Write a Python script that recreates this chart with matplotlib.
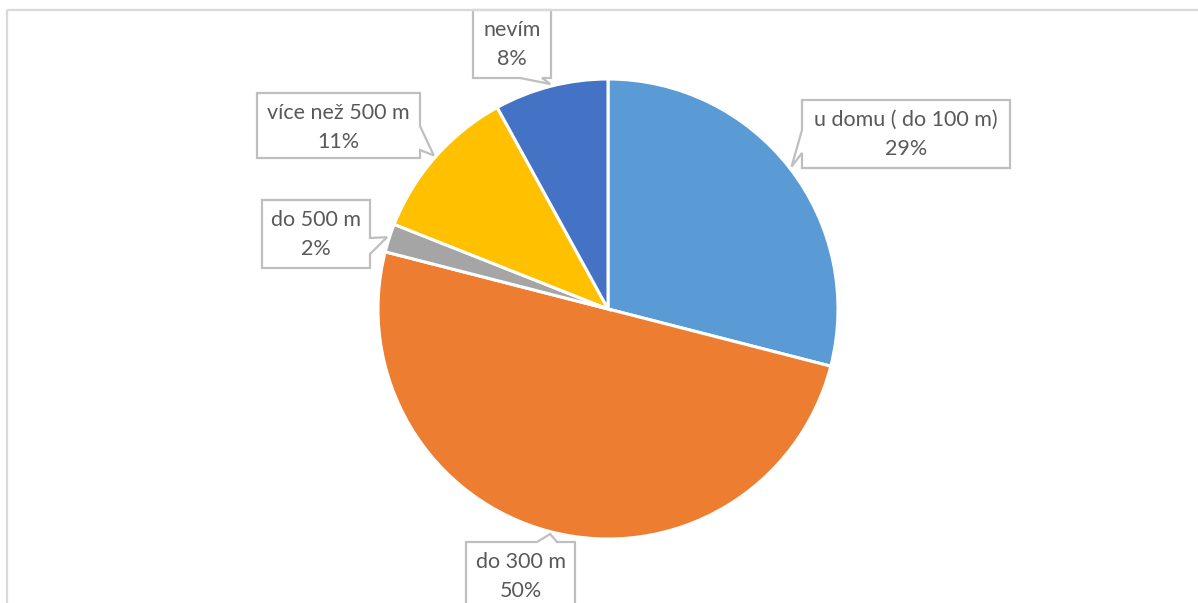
import numpy as np
import matplotlib
matplotlib.use("Agg")
import matplotlib.pyplot as plt
from matplotlib.patches import Polygon, Rectangle

# Survey shares (percent), drawn clockwise from 12 o'clock
categories = ["u domu ( do 100 m)", "do 300 m", "do 500 m", "více než 500 m", "nevím"]
shares = [29, 50, 2, 11, 8]
colors = ["#5B9BD5", "#ED7D31", "#A5A5A5", "#FFC000", "#4472C4"]

W, H = 1198, 603
fig = plt.figure(figsize=(W / 100, H / 100), dpi=100)
ax = fig.add_axes([0, 0, 1, 1])

cx, cy, R = 608, 309, 230
wedges, _ = ax.pie(shares, colors=colors, startangle=90, counterclock=False,
                   center=(cx, cy), radius=R, frame=True,
                   wedgeprops=dict(edgecolor="white", linewidth=2.2))
ax.set_xlim(0, W)
ax.set_ylim(H, 0)
ax.set_aspect("equal")
ax.axis("off")
for w in wedges:
    # y axis is flipped, so mirror the wedge angles to keep clockwise order from top
    t1, t2 = w.theta1, w.theta2
    w.set_theta1(-t2)
    w.set_theta2(-t1)
    w.set_zorder(2)

# label boxes: (x0, y0, x1, y1), side that carries the pointer, pointer base span
boxes = {
    "u domu ( do 100 m)": ((802, 100, 1010, 168), "left", (130, 153)),
    "do 300 m": ((466, 542, 575, 640), "top", (537, 557)),
    "do 500 m": ((262, 200, 370, 268), "right", (238, 254)),
    "více než 500 m": ((257, 93, 420, 158), "right", (126, 150)),
    "nevím": ((473, 10, 551, 78), "bottom", (520, 542)),
}


def callout_poly(box, side, base, tip):
    x0, y0, x1, y1 = box
    a, b = base
    pts = [(x0, y0)]
    if side == "top":
        pts += [(a, y0), tip, (b, y0)]
    pts.append((x1, y0))
    if side == "right":
        pts += [(x1, a), tip, (x1, b)]
    pts.append((x1, y1))
    if side == "bottom":
        pts += [(b, y1), tip, (a, y1)]
    pts.append((x0, y1))
    if side == "left":
        pts += [(x0, b), tip, (x0, a)]
    return pts


cum = 0.0
total = float(sum(shares))
for cat, val in zip(categories, shares):
    mid = 90 - 360 * (cum + val / 2) / total
    cum += val
    tip = (cx + 1.01 * R * np.cos(np.radians(mid)),
           cy - 1.01 * R * np.sin(np.radians(mid)))
    box, side, base = boxes[cat]
    ax.add_patch(Polygon(callout_poly(box, side, base, tip), closed=True,
                         facecolor="white", edgecolor="#BFBFBF",
                         linewidth=1.6, zorder=3))
    x0, y0, x1, y1 = box
    xm = (x0 + x1) / 2
    ytop = y0 + 20 if cat != "nevím" else 30
    ax.text(xm, ytop, cat, ha="center", va="center", fontsize=15.5,
            family="Lato", color="#595959", zorder=4)
    ax.text(xm, ytop + 29, f"{val}%", ha="center", va="center", fontsize=15.5,
            family="Lato", color="#595959", zorder=4)

# chart area frame
ax.add_patch(Rectangle((7, 10), W + 20, H + 20, fill=False,
                       edgecolor="#D9D9D9", linewidth=1.6, zorder=5))

fig.savefig("out.png", dpi=100, facecolor="white")
